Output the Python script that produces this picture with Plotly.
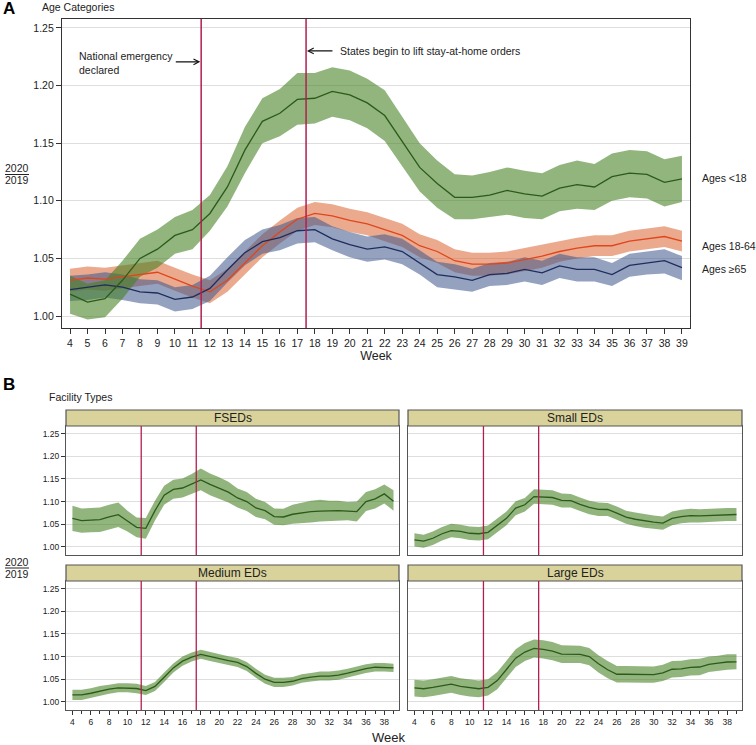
import plotly.graph_objects as go

weeks = list(range(4, 40))

# Panel A: age categories (mean, lower, upper)
age_lt18 = [1.019, 1.012, 1.015, 1.031, 1.050, 1.058, 1.070, 1.075, 1.089, 1.112, 1.144, 1.169, 1.176, 1.188, 1.189, 1.195, 1.192, 1.185, 1.174, 1.151, 1.129, 1.115, 1.103, 1.103, 1.105, 1.109, 1.106, 1.104, 1.111, 1.114, 1.112, 1.121, 1.124, 1.123, 1.116, 1.119]
age_lt18_lo = [1.002, 0.997, 0.999, 1.015, 1.034, 1.042, 1.054, 1.058, 1.074, 1.095, 1.124, 1.150, 1.156, 1.166, 1.167, 1.173, 1.170, 1.163, 1.152, 1.130, 1.108, 1.094, 1.084, 1.084, 1.086, 1.088, 1.085, 1.084, 1.091, 1.093, 1.092, 1.100, 1.103, 1.102, 1.095, 1.099]
age_lt18_hi = [1.035, 1.028, 1.031, 1.048, 1.067, 1.075, 1.086, 1.092, 1.105, 1.130, 1.164, 1.189, 1.197, 1.211, 1.211, 1.216, 1.213, 1.206, 1.196, 1.173, 1.150, 1.135, 1.123, 1.122, 1.125, 1.129, 1.126, 1.124, 1.131, 1.135, 1.132, 1.141, 1.144, 1.143, 1.136, 1.139]

age_18_64 = [1.031, 1.033, 1.032, 1.034, 1.036, 1.038, 1.032, 1.026, 1.021, 1.031, 1.046, 1.061, 1.073, 1.084, 1.089, 1.087, 1.083, 1.080, 1.075, 1.070, 1.061, 1.056, 1.048, 1.045, 1.045, 1.046, 1.049, 1.052, 1.056, 1.059, 1.061, 1.061, 1.065, 1.067, 1.069, 1.065]
age_18_64_lo = [1.021, 1.023, 1.022, 1.024, 1.026, 1.028, 1.022, 1.016, 1.011, 1.021, 1.036, 1.051, 1.063, 1.074, 1.079, 1.077, 1.073, 1.070, 1.065, 1.060, 1.051, 1.046, 1.038, 1.035, 1.035, 1.036, 1.039, 1.042, 1.047, 1.050, 1.052, 1.052, 1.056, 1.058, 1.060, 1.056]
age_18_64_hi = [1.041, 1.043, 1.042, 1.044, 1.046, 1.048, 1.042, 1.036, 1.031, 1.041, 1.056, 1.071, 1.083, 1.094, 1.099, 1.097, 1.093, 1.090, 1.085, 1.080, 1.071, 1.066, 1.058, 1.055, 1.055, 1.056, 1.059, 1.062, 1.065, 1.068, 1.070, 1.070, 1.074, 1.076, 1.078, 1.074]

age_65 = [1.023, 1.025, 1.027, 1.025, 1.021, 1.020, 1.0145, 1.0165, 1.024, 1.040, 1.055, 1.0645, 1.068, 1.074, 1.075, 1.067, 1.062, 1.058, 1.060, 1.056, 1.046, 1.036, 1.034, 1.031, 1.036, 1.037, 1.0405, 1.0375, 1.0435, 1.0405, 1.0405, 1.036, 1.044, 1.046, 1.048, 1.042]
age_65_lo = [1.013, 1.014, 1.016, 1.014, 1.011, 1.010, 1.004, 1.006, 1.013, 1.029, 1.044, 1.054, 1.057, 1.063, 1.064, 1.057, 1.051, 1.047, 1.049, 1.045, 1.036, 1.025, 1.023, 1.021, 1.026, 1.027, 1.030, 1.027, 1.033, 1.030, 1.030, 1.026, 1.034, 1.036, 1.037, 1.031]
age_65_hi = [1.035, 1.036, 1.038, 1.036, 1.032, 1.031, 1.025, 1.027, 1.035, 1.051, 1.066, 1.075, 1.079, 1.085, 1.086, 1.078, 1.073, 1.069, 1.071, 1.067, 1.057, 1.047, 1.045, 1.041, 1.046, 1.047, 1.051, 1.048, 1.054, 1.051, 1.051, 1.046, 1.054, 1.056, 1.058, 1.052]

# Panel B: facility types
fsed = [1.063, 1.058, 1.059, 1.060, 1.066, 1.071, 1.057, 1.043, 1.041, 1.080, 1.114, 1.127, 1.130, 1.139, 1.148, 1.138, 1.130, 1.121, 1.108, 1.100, 1.086, 1.080, 1.067, 1.066, 1.072, 1.075, 1.078, 1.079, 1.080, 1.080, 1.079, 1.078, 1.100, 1.106, 1.117, 1.101]
fsed_lo = [1.035, 1.031, 1.032, 1.033, 1.039, 1.044, 1.034, 1.021, 1.018, 1.058, 1.093, 1.106, 1.109, 1.117, 1.125, 1.114, 1.106, 1.098, 1.087, 1.079, 1.066, 1.061, 1.049, 1.048, 1.051, 1.053, 1.054, 1.056, 1.058, 1.058, 1.059, 1.056, 1.079, 1.085, 1.096, 1.080]
fsed_hi = [1.091, 1.085, 1.086, 1.087, 1.093, 1.098, 1.080, 1.065, 1.064, 1.102, 1.135, 1.148, 1.151, 1.161, 1.173, 1.162, 1.154, 1.144, 1.129, 1.121, 1.106, 1.099, 1.085, 1.084, 1.093, 1.097, 1.102, 1.104, 1.102, 1.102, 1.099, 1.100, 1.121, 1.127, 1.138, 1.125]

small = [1.0155, 1.0125, 1.019, 1.029, 1.036, 1.034, 1.030, 1.029, 1.032, 1.047, 1.063, 1.0855, 1.093, 1.111, 1.110, 1.109, 1.1025, 1.102, 1.094, 1.087, 1.083, 1.0825, 1.0745, 1.0655, 1.061, 1.057, 1.0545, 1.0525, 1.063, 1.067, 1.069, 1.0685, 1.069, 1.071, 1.0715, 1.0715]
small_lo = [1.001, 0.998, 1.004, 1.014, 1.021, 1.019, 1.015, 1.014, 1.017, 1.032, 1.048, 1.070, 1.078, 1.095, 1.094, 1.093, 1.087, 1.087, 1.079, 1.072, 1.068, 1.068, 1.060, 1.051, 1.046, 1.042, 1.040, 1.038, 1.048, 1.052, 1.054, 1.054, 1.054, 1.056, 1.057, 1.057]
small_hi = [1.030, 1.027, 1.034, 1.044, 1.051, 1.049, 1.045, 1.044, 1.047, 1.062, 1.078, 1.101, 1.108, 1.127, 1.126, 1.125, 1.118, 1.117, 1.109, 1.102, 1.098, 1.097, 1.089, 1.080, 1.076, 1.072, 1.069, 1.067, 1.078, 1.082, 1.084, 1.083, 1.084, 1.086, 1.086, 1.086]

medium = [1.0155, 1.0155, 1.019, 1.024, 1.028, 1.031, 1.031, 1.0295, 1.025, 1.034, 1.0545, 1.075, 1.090, 1.099, 1.105, 1.100, 1.095, 1.091, 1.087, 1.078, 1.063, 1.050, 1.043, 1.043, 1.0455, 1.0515, 1.0545, 1.057, 1.057, 1.059, 1.0635, 1.0685, 1.0735, 1.0765, 1.0765, 1.075]
medium_lo = [1.004, 1.004, 1.008, 1.013, 1.018, 1.021, 1.021, 1.019, 1.015, 1.024, 1.044, 1.065, 1.080, 1.089, 1.095, 1.090, 1.085, 1.081, 1.077, 1.068, 1.053, 1.040, 1.033, 1.033, 1.036, 1.042, 1.045, 1.047, 1.047, 1.049, 1.054, 1.059, 1.064, 1.067, 1.067, 1.066]
medium_hi = [1.027, 1.027, 1.030, 1.035, 1.038, 1.041, 1.041, 1.040, 1.035, 1.044, 1.065, 1.085, 1.100, 1.109, 1.115, 1.110, 1.105, 1.101, 1.097, 1.088, 1.073, 1.060, 1.053, 1.053, 1.055, 1.061, 1.064, 1.067, 1.067, 1.069, 1.073, 1.078, 1.083, 1.086, 1.086, 1.084]

large = [1.031, 1.029, 1.032, 1.035, 1.039, 1.034, 1.031, 1.029, 1.032, 1.047, 1.0715, 1.0965, 1.110, 1.118, 1.116, 1.112, 1.1055, 1.105, 1.105, 1.100, 1.084, 1.071, 1.061, 1.061, 1.061, 1.060, 1.060, 1.064, 1.072, 1.073, 1.076, 1.077, 1.083, 1.0855, 1.088, 1.0885]
large_lo = [1.012, 1.010, 1.013, 1.016, 1.020, 1.015, 1.012, 1.010, 1.014, 1.028, 1.052, 1.077, 1.090, 1.098, 1.096, 1.092, 1.086, 1.086, 1.086, 1.081, 1.065, 1.052, 1.043, 1.043, 1.043, 1.042, 1.042, 1.046, 1.054, 1.055, 1.058, 1.059, 1.066, 1.069, 1.071, 1.072]
large_hi = [1.049, 1.047, 1.050, 1.053, 1.057, 1.052, 1.049, 1.047, 1.050, 1.066, 1.091, 1.116, 1.130, 1.138, 1.136, 1.132, 1.125, 1.124, 1.124, 1.119, 1.103, 1.090, 1.079, 1.079, 1.079, 1.078, 1.078, 1.082, 1.090, 1.091, 1.094, 1.095, 1.100, 1.102, 1.105, 1.105]

y_ticks = [1.00, 1.05, 1.10, 1.15, 1.20, 1.25]
y_ticktext = ["1.00", "1.05", "1.10", "1.15", "1.20", "1.25"]
event_weeks = [11.5, 17.5]
facet_titles = ["FSEDs", "Small EDs", "Medium EDs", "Large EDs"]

W, H = 756, 745
FONT = "Arial, 'Liberation Sans', sans-serif"
GREEN_FILL = "rgba(68,127,33,0.58)"
GREEN_LINE = "#2c5a1a"
ORANGE_FILL = "rgba(218,100,50,0.55)"
ORANGE_LINE = "#e0461c"
BLUE_FILL = "rgba(60,85,140,0.55)"
BLUE_LINE = "#1f2d5c"
VLINE = "#b01f50"
AXC = "#333333"

def px_x(p):
    return p / W

def px_y(p):
    return 1 - p / H

fig = go.Figure()

def band(xa, ya, lo, hi, fill):
    fig.add_trace(go.Scatter(x=weeks + weeks[::-1], y=hi + lo[::-1], fill="toself",
                             fillcolor=fill, line=dict(width=0), mode="lines",
                             hoverinfo="skip", showlegend=False, xaxis=xa, yaxis=ya))

def line(xa, ya, vals, color):
    fig.add_trace(go.Scatter(x=weeks, y=vals, mode="lines", line=dict(color=color, width=1.3),
                             showlegend=False, xaxis=xa, yaxis=ya))

# Panel A
band("x", "y", age_18_64_lo, age_18_64_hi, ORANGE_FILL)
band("x", "y", age_65_lo, age_65_hi, BLUE_FILL)
band("x", "y", age_lt18_lo, age_lt18_hi, GREEN_FILL)
line("x", "y", age_18_64, ORANGE_LINE)
line("x", "y", age_65, BLUE_LINE)
line("x", "y", age_lt18, GREEN_LINE)

# Panel B facets
facets = [(fsed, fsed_lo, fsed_hi), (small, small_lo, small_hi),
          (medium, medium_lo, medium_hi), (large, large_lo, large_hi)]
for i, (m, lo, hi) in enumerate(facets):
    xa = "x%d" % (i + 2)
    ya = "y%d" % (i + 2)
    band(xa, ya, lo, hi, GREEN_FILL)
    line(xa, ya, m, GREEN_LINE)

tickfont = dict(family=FONT, size=10.5, color="#222")
layout = dict(
    width=W, height=H, margin=dict(l=0, r=0, t=0, b=0),
    paper_bgcolor="white", plot_bgcolor="white",
    font=dict(family=FONT, color="#222"),
    showlegend=False,
)

layout["xaxis"] = dict(domain=[px_x(62), px_x(690)], range=[3.54, 39.46], tickvals=weeks,
                       ticks="outside", ticklen=5, tickcolor=AXC, showline=True, mirror=True,
                       linecolor=AXC, linewidth=1.2, showgrid=False, zeroline=False,
                       tickfont=tickfont,
                       title=dict(text="Week", font=dict(family=FONT, size=12.5), standoff=2),
                       anchor="y")
layout["yaxis"] = dict(domain=[px_y(328), px_y(19)], range=[0.9896, 1.2578], tickvals=y_ticks,
                       ticktext=y_ticktext, ticks="outside", ticklen=5, tickcolor=AXC,
                       showline=True, mirror=True, linecolor=AXC, linewidth=1.2,
                       showgrid=True, gridcolor="#dedede", zeroline=False, tickfont=tickfont,
                       anchor="x")

xdoms = [[px_x(66), px_x(399)], [px_x(408), px_x(742)]]
ydoms = [[px_y(555), px_y(426)], [px_y(710), px_y(581)]]
odd_weeks = [w for w in weeks if w % 2 == 1]
even_weeks = [w for w in weeks if w % 2 == 0]
small_font = dict(family=FONT, size=8.5, color="#222")
shapes = []
annotations = []
for i in range(4):
    col = i % 2
    row = i // 2
    xk = "xaxis%d" % (i + 2)
    yk = "yaxis%d" % (i + 2)
    xa = dict(domain=xdoms[col], range=[3.3, 39.6], showline=True, mirror=True,
              linecolor="#555", linewidth=1.2, showgrid=False, zeroline=False,
              anchor="y%d" % (i + 2))
    if row == 1:
        xa.update(tickvals=even_weeks, ticks="outside", ticklen=4, tickcolor=AXC,
                  tickfont=small_font,
                  minor=dict(tickvals=odd_weeks, ticks="outside", ticklen=2.5, tickcolor=AXC))
    else:
        xa.update(showticklabels=False, ticks="")
    ya = dict(domain=ydoms[row], range=[0.982, 1.267], tickvals=y_ticks, ticktext=y_ticktext,
              showline=True, mirror=True, linecolor="#555", linewidth=1.2, showgrid=True,
              gridcolor="#dedede", zeroline=False, anchor="x%d" % (i + 2))
    if col == 0:
        ya.update(ticks="outside", ticklen=4, tickcolor=AXC, tickfont=small_font)
    else:
        ya.update(showticklabels=False, ticks="")
    layout[xk] = xa
    layout[yk] = ya
    # header strip
    top = 410 if row == 0 else 565
    shapes.append(dict(type="rect", xref="paper", yref="paper", x0=xdoms[col][0], x1=xdoms[col][1],
                       y0=px_y(top + 16), y1=px_y(top), fillcolor="#d9d39b",
                       line=dict(color="#555", width=1.2), layer="above"))
    annotations.append(dict(text=facet_titles[i], xref="paper", yref="paper",
                            x=(xdoms[col][0] + xdoms[col][1]) / 2, y=px_y(top + 8),
                            showarrow=False, font=dict(family=FONT, size=12, color="#222"),
                            xanchor="center", yanchor="middle"))
    for ew in event_weeks:
        shapes.append(dict(type="line", xref="x%d" % (i + 2), yref="y%d domain" % (i + 2),
                           x0=ew, x1=ew, y0=0, y1=1, line=dict(color=VLINE, width=1.3)))

for ew in event_weeks:
    shapes.append(dict(type="line", xref="x", yref="y domain", x0=ew, x1=ew, y0=0, y1=1,
                       line=dict(color=VLINE, width=1.5)))

# fraction labels
for (ytop, ybot, ybar) in [(168, 180, 174.5), (562, 574, 568)]:
    annotations.append(dict(text="2020", xref="paper", yref="paper", x=px_x(17), y=px_y(ytop),
                            showarrow=False, font=dict(family=FONT, size=10.5), xanchor="center",
                            yanchor="middle"))
    annotations.append(dict(text="2019", xref="paper", yref="paper", x=px_x(17), y=px_y(ybot),
                            showarrow=False, font=dict(family=FONT, size=10.5), xanchor="center",
                            yanchor="middle"))
    shapes.append(dict(type="line", xref="paper", yref="paper", x0=px_x(5), x1=px_x(29),
                       y0=px_y(ybar), y1=px_y(ybar), line=dict(color="#222", width=1)))

# panel labels & titles
annotations += [
    dict(text="<b>A</b>", xref="paper", yref="paper", x=px_x(1), y=px_y(8), showarrow=False,
         font=dict(family=FONT, size=17, color="#000"), xanchor="left", yanchor="middle"),
    dict(text="Age Categories", xref="paper", yref="paper", x=px_x(40), y=px_y(7), showarrow=False,
         font=dict(family=FONT, size=10.5), xanchor="left", yanchor="middle"),
    dict(text="<b>B</b>", xref="paper", yref="paper", x=px_x(1), y=px_y(384), showarrow=False,
         font=dict(family=FONT, size=17, color="#000"), xanchor="left", yanchor="middle"),
    dict(text="Facility Types", xref="paper", yref="paper", x=px_x(47), y=px_y(397), showarrow=False,
         font=dict(family=FONT, size=10.5), xanchor="left", yanchor="middle"),
    dict(text="Week", xref="paper", yref="paper", x=px_x(388), y=px_y(737), showarrow=False,
         font=dict(family=FONT, size=13), xanchor="center", yanchor="middle"),
    # series labels
    dict(text="Ages <18", xref="paper", yref="y", x=px_x(700), y=1.120, showarrow=False,
         font=dict(family=FONT, size=10.5), xanchor="left", yanchor="middle"),
    dict(text="Ages 18-64", xref="paper", yref="y", x=px_x(700), y=1.0604, showarrow=False,
         font=dict(family=FONT, size=10.5), xanchor="left", yanchor="middle"),
    dict(text="Ages ≥65", xref="paper", yref="y", x=px_x(700), y=1.0405, showarrow=False,
         font=dict(family=FONT, size=10.5), xanchor="left", yanchor="middle"),
    # event annotations
    dict(text="National emergency<br>declared", xref="paper", yref="paper", x=px_x(77), y=px_y(63),
         showarrow=False, font=dict(family=FONT, size=10.5), xanchor="left", yanchor="middle",
         align="left"),
    dict(text="", xref="x", yref="y", x=11.45, y=1.2206, ax=-26, ay=0, showarrow=True,
         arrowhead=5, arrowsize=1, arrowwidth=1.1, arrowcolor="#111"),
    dict(text="States begin to lift stay-at-home orders", xref="paper", yref="paper", x=px_x(338),
         y=px_y(51), showarrow=False, font=dict(family=FONT, size=10.5), xanchor="left",
         yanchor="middle"),
    dict(text="", xref="x", yref="y", x=17.55, y=1.2301, ax=27, ay=0, showarrow=True,
         arrowhead=5, arrowsize=1, arrowwidth=1.1, arrowcolor="#111"),
]

layout["shapes"] = shapes
layout["annotations"] = annotations
fig.update_layout(**layout)
fig.write_html("out.html", config={"displayModeBar": False},
               post_script="document.body.style.margin='0';document.body.style.overflow='hidden';")
